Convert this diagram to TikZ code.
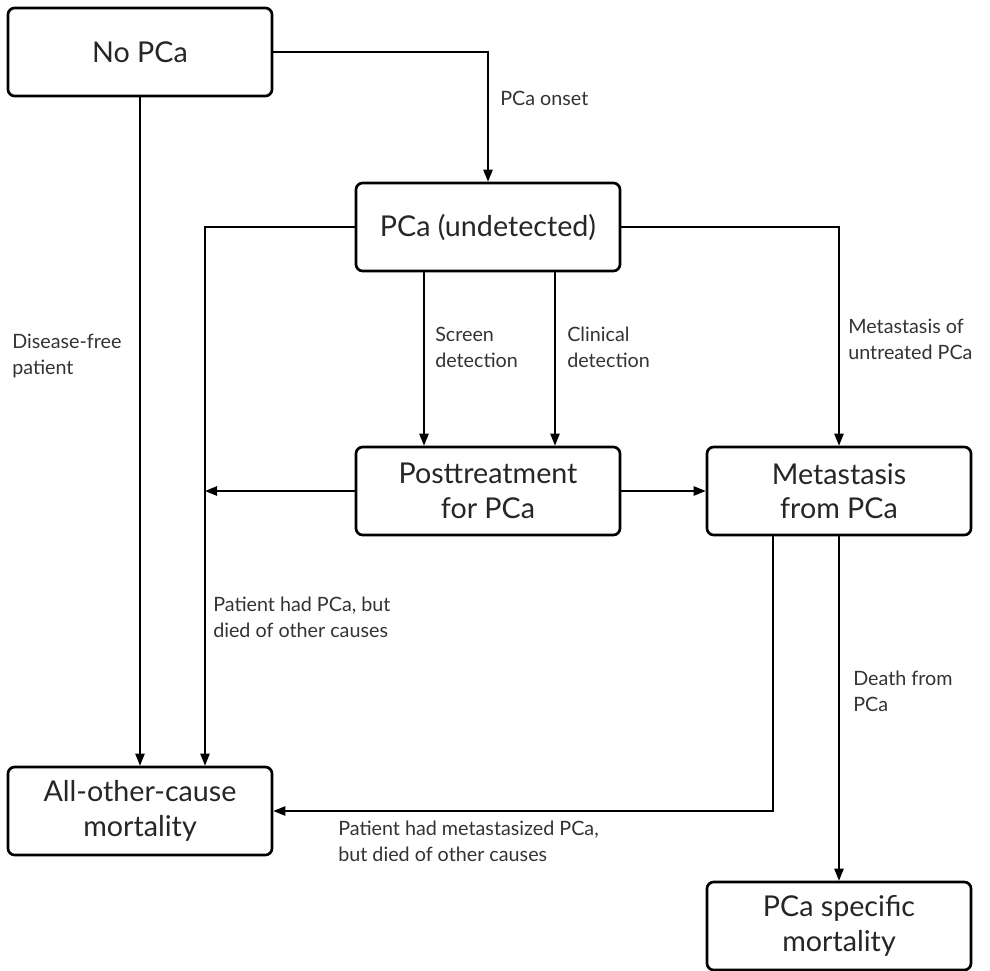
\documentclass[tikz,border=0pt]{standalone}
\usepackage{fontspec}
\setmainfont{Lato}
\usetikzlibrary{arrows.meta}
\tikzset{
  state/.style={draw, line width=2pt, rounded corners=5pt, minimum width=198pt, minimum height=66pt, align=center, font=\fontsize{21.5}{26}\selectfont, text=black!85},
  flow/.style={line width=1.1pt, -{Triangle[length=9pt,width=7pt]}},
  note/.style={anchor=north west, align=left, inner sep=0pt, font=\fontsize{14.8}{19.5}\selectfont, text=black!80}
}

\begin{document}
\begin{tikzpicture}[x=0.75pt, y=-0.75pt]
		%%%%% FRAME %%%%%
		\useasboundingbox (0, 0) rectangle (990, 971);
		
		%%%%% STATES %%%%%
		\node[state] (nopca) at (140, 52) {No PCa};
		\node[state] (undet) at (488, 227) {PCa (undetected)};
		\node[state] (post) at (488, 491) {Posttreatment\\for PCa};
		\node[state] (meta) at (839, 491) {Metastasis\\from PCa};
		\node[state] (other) at (140, 811) {All-other-cause\\mortality};
		\node[state] (specific) at (839, 926) {PCa specific\\mortality};
		
		\coordinate (lbus) at (205, 227);
		\coordinate (scr) at (424, 0);
		\coordinate (cli) at (555, 0);
		\coordinate (back) at (773, 0);
		
		%%%%% TRANSITIONS %%%%%
		\draw[flow] (nopca.east) -| (undet.north);
		\draw[flow] (nopca) -- (other);
		\draw[flow] (undet.west) -- (lbus) -- (lbus |- other.north);
		\draw[flow] (post.west) -- (post.west -| lbus);
		\draw[flow] (undet.south -| scr) -- (post.north -| scr);
		\draw[flow] (undet.south -| cli) -- (post.north -| cli);
		\draw[flow] (undet.east) -| (meta.north);
		\draw[flow] (post) -- (meta);
		\draw[flow] (meta.south -| back) |- (other.east);
		\draw[flow] (meta) -- (specific);
		
		%%%%% LABELS %%%%%
		\node[note] (onset) at (500, 91) {PCa onset};
		\node[note] (free) at (12, 334) {Disease-free\\patient};
		\node[note] (screen) at (435, 327) {Screen\\detection};
		\node[note] (clinical) at (567, 327) {Clinical\\detection};
		\node[note] (untreated) at (848, 319) {Metastasis of\\untreated PCa};
		\node[note] (othercause) at (213, 597) {Patient had PCa, but\\died of other causes};
		\node[note] (death) at (853, 671) {Death from\\PCa};
		\node[note] (metaother) at (338, 821) {Patient had metastasized PCa,\\but died of other causes};
		
		%%%%% END %%%%%
	\end{tikzpicture}
\end{document}
